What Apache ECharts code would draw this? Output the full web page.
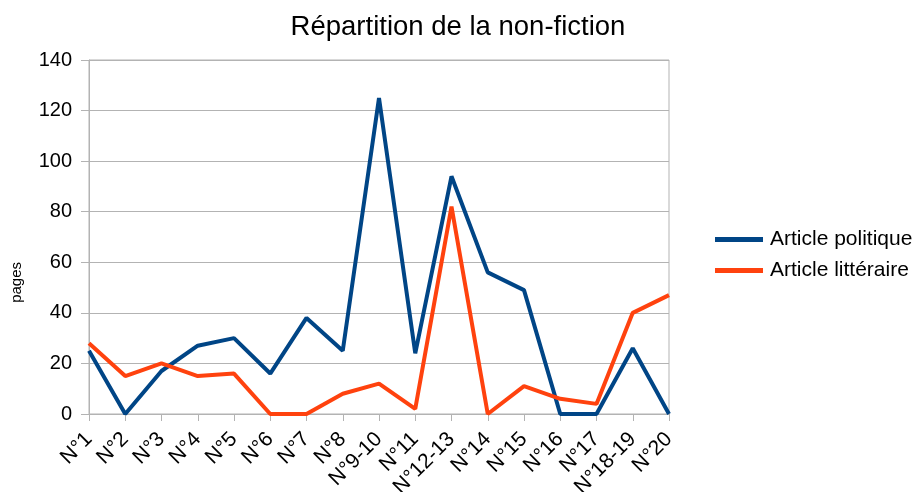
<!DOCTYPE html>
<html>
<head>
<meta charset="utf-8">
<script src="https://cdn.jsdelivr.net/npm/echarts@6/dist/echarts.min.js"></script>
<style>html,body{margin:0;padding:0;background:#fff;}#c{width:920px;height:492px;}</style>
</head>
<body>
<div id="c"></div>
<script>
const categories = ['N°1','N°2','N°3','N°4','N°5','N°6','N°7','N°8','N°9-10','N°11','N°12-13','N°14','N°15','N°16','N°17','N°18-19','N°20'];
const politique = [25, 0, 17, 27, 30, 16, 38, 25, 125, 24, 94, 56, 49, 0, 0, 26, 0];
const litteraire = [28, 15, 20, 15, 16, 0, 0, 8, 12, 2, 82, 0, 11, 6, 4, 40, 47];
const yTicks = [0, 20, 40, 60, 80, 100, 120, 140];

const font = 'Liberation Sans, Arial, sans-serif';
const chart = echarts.init(document.getElementById('c'));
chart.setOption({
  animation: false,
  backgroundColor: '#fff',
  title: {
    text: 'Répartition de la non-fiction',
    left: 453, textAlign: 'center', top: 8,
    textStyle: {fontFamily: font, fontSize: 27.5, fontWeight: 'normal', color: '#000'}
  },
  legend: {
    orient: 'vertical', left: 710, top: 224, itemGap: 10,
    icon: 'rect', itemWidth: 48, itemHeight: 5,
    textStyle: {fontFamily: font, fontSize: 21, color: '#000', padding: [0,0,0,2]},
    data: ['Article politique', 'Article littéraire']
  },
  grid: {left: 89, right: 251, top: 60, bottom: 78, show: true, borderColor: '#b3b3b3', borderWidth: 1,
         containLabel: false, outerBoundsMode: 'none'},
  xAxis: {
    type: 'category', data: categories, boundaryGap: false,
    axisLine: {lineStyle: {color: '#b3b3b3'}},
    axisTick: {show: true, length: 7, alignWithLabel: true, lineStyle: {color: '#b3b3b3'}},
    axisLabel: {rotate: 45, fontFamily: font, fontSize: 21, color: '#000', margin: 22, interval: 0},
    splitLine: {show: false}
  },
  yAxis: {
    type: 'value', min: yTicks[0], max: yTicks[yTicks.length-1], interval: 20,
    axisLine: {show: true, lineStyle: {color: '#b3b3b3'}},
    axisTick: {show: true, length: 8, lineStyle: {color: '#b3b3b3'}},
    axisLabel: {fontFamily: font, fontSize: 20, color: '#000', margin: 17},
    splitLine: {lineStyle: {color: '#b3b3b3'}}
  },
  graphic: [{
    type: 'text', left: 9, top: 262, rotation: Math.PI/2,
    style: {text: 'pages', font: '15px ' + font, fill: '#000'}
  }],
  series: [
    {name: 'Article politique', type: 'line', data: politique, symbol: 'none',
     lineStyle: {width: 4, color: '#004586'}, itemStyle: {color: '#004586'}},
    {name: 'Article littéraire', type: 'line', data: litteraire, symbol: 'none',
     lineStyle: {width: 4, color: '#ff420e'}, itemStyle: {color: '#ff420e'}}
  ]
});
</script>
</body>
</html>
